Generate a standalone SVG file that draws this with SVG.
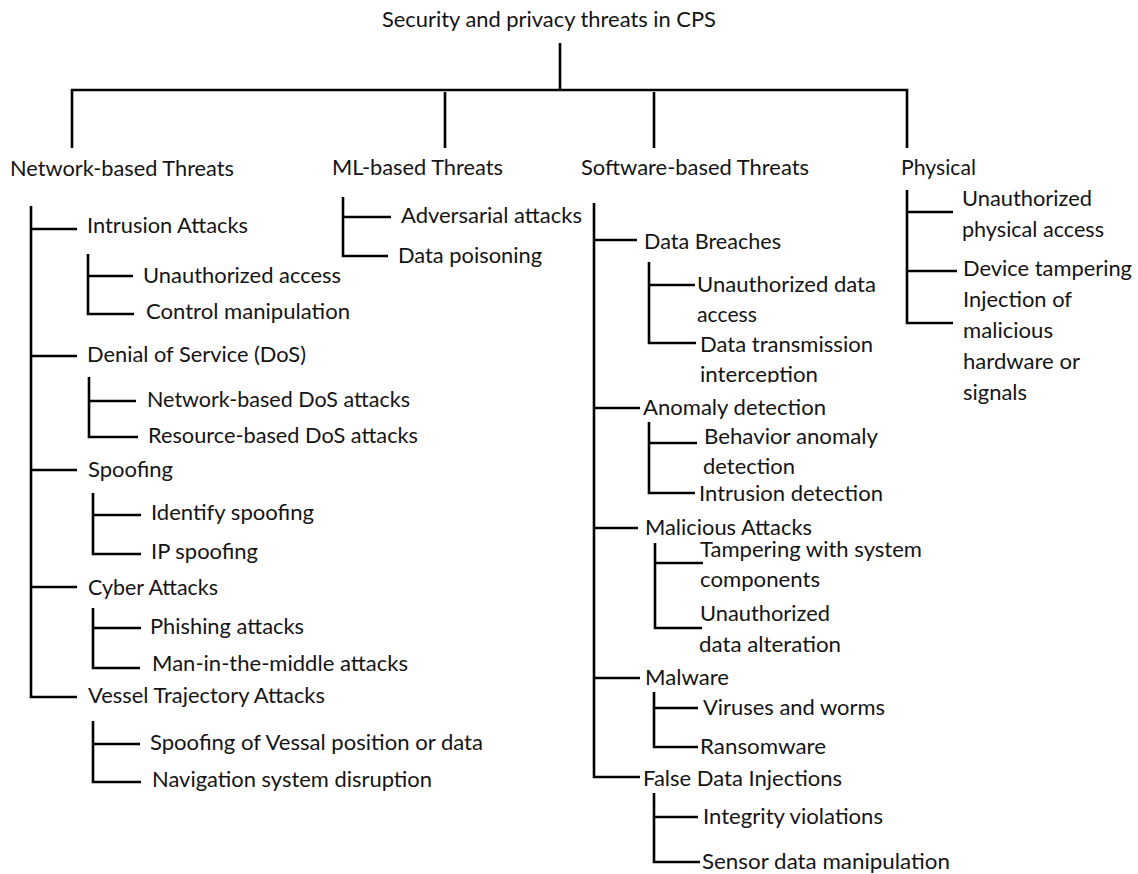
<svg xmlns="http://www.w3.org/2000/svg" width="1138" height="874" viewBox="0 0 1138 874">
<style>
.t{font-family:Lato,"Open Sans","Liberation Sans",sans-serif;font-size:21px;fill:#141414}
.c{stroke:#000;stroke-width:2.6;fill:none;stroke-linejoin:miter}
</style>
<defs>
<clipPath id="clipInt"><rect x="690" y="355" width="200" height="27.5"/></clipPath>
</defs>
<rect width="1138" height="874" fill="#fff"/>
<g id="connectors" class="c">
<path d="M560,43V90M72,148V90H907V148M445,92V148M654,92V148"/>
<path d="M31,206V697H77M31,229H77M31,356H77M31,470H77M31,587H77"/>
<path d="M88,254V314H134M88,276H133"/>
<path d="M89,377V437H138M89,401H136"/>
<path d="M93,493V554H141M93,515H141"/>
<path d="M93,608V668H140M93,628H141"/>
<path d="M93,721V782H141M93,744H140"/>
<path d="M343,197V256H388M343,217H391"/>
<path d="M594,203V777H640M594,240H637M594,408H640M594,528H638M594,678H640"/>
<path d="M649,262V343H696M649,285H695"/>
<path d="M649,422V493H695M649,443H697"/>
<path d="M655,543V628H702M655,563H703"/>
<path d="M654,692V747H698M654,708H698"/>
<path d="M654,793V862H700M654,817H698"/>
<path d="M907,190V323H953M907,212H953M907,271H957"/>
</g>
<g id="root"><text class="t" x="382" y="27" textLength="334" lengthAdjust="spacingAndGlyphs">Security and privacy threats in CPS</text></g>
<g id="network"><text class="t" x="10" y="176" textLength="224" lengthAdjust="spacingAndGlyphs">Network-based Threats</text></g>
<g id="ml"><text class="t" x="332" y="175" textLength="171" lengthAdjust="spacingAndGlyphs">ML-based Threats</text></g>
<g id="software"><text class="t" x="581" y="175" textLength="228" lengthAdjust="spacingAndGlyphs">Software-based Threats</text></g>
<g id="physical"><text class="t" x="901" y="175" textLength="75" lengthAdjust="spacingAndGlyphs">Physical</text></g>

<g id="intrusion"><text class="t" x="87" y="233" textLength="161" lengthAdjust="spacingAndGlyphs">Intrusion Attacks</text></g>
<g id="unauth-access"><text class="t" x="143" y="283" textLength="198" lengthAdjust="spacingAndGlyphs">Unauthorized access</text></g>
<g id="control-manip"><text class="t" x="146" y="319" textLength="204" lengthAdjust="spacingAndGlyphs">Control manipulation</text></g>
<g id="dos"><text class="t" x="87" y="362" textLength="219" lengthAdjust="spacingAndGlyphs">Denial of Service (DoS)</text></g>
<g id="net-dos"><text class="t" x="147" y="407" textLength="263" lengthAdjust="spacingAndGlyphs">Network-based DoS attacks</text></g>
<g id="res-dos"><text class="t" x="148" y="443" textLength="270" lengthAdjust="spacingAndGlyphs">Resource-based DoS attacks</text></g>
<g id="spoofing"><text class="t" x="88" y="477" textLength="85" lengthAdjust="spacingAndGlyphs">Spoofing</text></g>
<g id="id-spoof"><text class="t" x="151" y="520" textLength="163" lengthAdjust="spacingAndGlyphs">Identify spoofing</text></g>
<g id="ip-spoof"><text class="t" x="151" y="559" textLength="107" lengthAdjust="spacingAndGlyphs">IP spoofing</text></g>
<g id="cyber"><text class="t" x="88" y="595" textLength="130" lengthAdjust="spacingAndGlyphs">Cyber Attacks</text></g>
<g id="phishing"><text class="t" x="150" y="634" textLength="154" lengthAdjust="spacingAndGlyphs">Phishing attacks</text></g>
<g id="mitm"><text class="t" x="152" y="671" textLength="256" lengthAdjust="spacingAndGlyphs">Man-in-the-middle attacks</text></g>
<g id="vessel"><text class="t" x="88" y="703" textLength="237" lengthAdjust="spacingAndGlyphs">Vessel Trajectory Attacks</text></g>
<g id="vessel-spoof"><text class="t" x="150" y="750" textLength="333" lengthAdjust="spacingAndGlyphs">Spoofing of Vessal position or data</text></g>
<g id="nav"><text class="t" x="152" y="787" textLength="280" lengthAdjust="spacingAndGlyphs">Navigation system disruption</text></g>

<g id="adversarial"><text class="t" x="401" y="223" textLength="181" lengthAdjust="spacingAndGlyphs">Adversarial attacks</text></g>
<g id="poisoning"><text class="t" x="398" y="263" textLength="144" lengthAdjust="spacingAndGlyphs">Data poisoning</text></g>

<g id="breaches"><text class="t" x="644" y="249" textLength="137" lengthAdjust="spacingAndGlyphs">Data Breaches</text></g>
<g id="unauth-data"><text class="t" x="697" y="292" textLength="179" lengthAdjust="spacingAndGlyphs">Unauthorized data</text><text class="t" x="697" y="322" textLength="60" lengthAdjust="spacingAndGlyphs">access</text></g>
<g id="transmission"><text class="t" x="700" y="352" textLength="173" lengthAdjust="spacingAndGlyphs">Data transmission</text><text class="t" x="700" y="382" textLength="118" lengthAdjust="spacingAndGlyphs" clip-path="url(#clipInt)">interception</text></g>
<g id="anomaly"><text class="t" x="643" y="415" textLength="183" lengthAdjust="spacingAndGlyphs">Anomaly detection</text></g>
<g id="behavior"><text class="t" x="704" y="444" textLength="174" lengthAdjust="spacingAndGlyphs">Behavior anomaly</text><text class="t" x="703" y="474" textLength="92" lengthAdjust="spacingAndGlyphs">detection</text></g>
<g id="intrusion-det"><text class="t" x="699" y="501" textLength="184" lengthAdjust="spacingAndGlyphs">Intrusion detection</text></g>
<g id="malicious"><text class="t" x="645" y="535" textLength="167" lengthAdjust="spacingAndGlyphs">Malicious Attacks</text></g>
<g id="tampering"><text class="t" x="700" y="557" textLength="222" lengthAdjust="spacingAndGlyphs">Tampering with system</text><text class="t" x="700" y="587" textLength="120" lengthAdjust="spacingAndGlyphs">components</text></g>
<g id="alteration"><text class="t" x="700" y="621" textLength="130" lengthAdjust="spacingAndGlyphs">Unauthorized</text><text class="t" x="699" y="652" textLength="142" lengthAdjust="spacingAndGlyphs">data alteration</text></g>
<g id="malware"><text class="t" x="645" y="685" textLength="84" lengthAdjust="spacingAndGlyphs">Malware</text></g>
<g id="viruses"><text class="t" x="703" y="715" textLength="182" lengthAdjust="spacingAndGlyphs">Viruses and worms</text></g>
<g id="ransomware"><text class="t" x="700" y="754" textLength="126" lengthAdjust="spacingAndGlyphs">Ransomware</text></g>
<g id="fdi"><text class="t" x="643" y="786" textLength="199" lengthAdjust="spacingAndGlyphs">False Data Injections</text></g>
<g id="integrity"><text class="t" x="703" y="824" textLength="180" lengthAdjust="spacingAndGlyphs">Integrity violations</text></g>
<g id="sensor"><text class="t" x="702" y="869" textLength="248" lengthAdjust="spacingAndGlyphs">Sensor data manipulation</text></g>

<g id="phys-access"><text class="t" x="962" y="206" textLength="130" lengthAdjust="spacingAndGlyphs">Unauthorized</text><text class="t" x="962" y="237" textLength="142" lengthAdjust="spacingAndGlyphs">physical access</text></g>
<g id="device"><text class="t" x="963" y="276" textLength="169" lengthAdjust="spacingAndGlyphs">Device tampering</text></g>
<g id="injection"><text class="t" x="963" y="307" textLength="109" lengthAdjust="spacingAndGlyphs">Injection of</text><text class="t" x="963" y="338" textLength="90" lengthAdjust="spacingAndGlyphs">malicious</text><text class="t" x="963" y="369" textLength="117" lengthAdjust="spacingAndGlyphs">hardware or</text><text class="t" x="963" y="400" textLength="64" lengthAdjust="spacingAndGlyphs">signals</text></g>
</svg>
